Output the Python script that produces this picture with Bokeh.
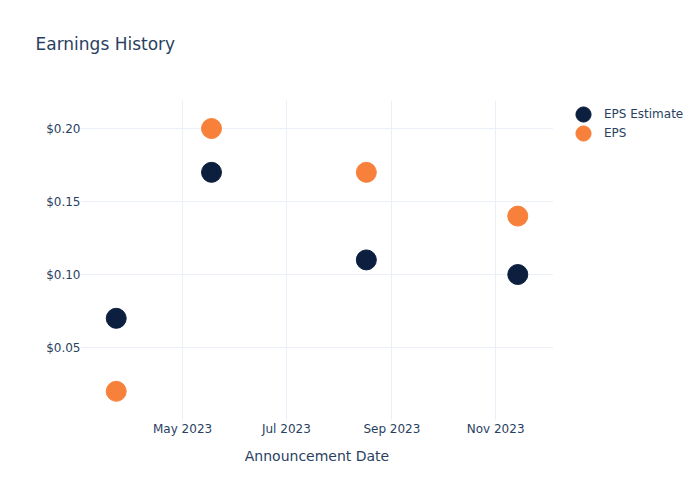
import pandas as pd
from bokeh.plotting import figure
from bokeh.layouts import row
from bokeh.models import (Range1d, MonthsTicker, DatetimeTickFormatter, FixedTicker,
                          NumeralTickFormatter, Legend, LegendItem, ColumnDataSource, Title)
from bokeh.embed import file_html
from bokeh.resources import INLINE

# ---- data ----
dates = ["2023-03-23", "2023-05-18", "2023-08-17", "2023-11-14"]
eps_estimate = [0.07, 0.17, 0.11, 0.10]
eps_actual = [0.02, 0.20, 0.17, 0.14]
y_ticks = [0.05, 0.10, 0.15, 0.20]
series_names = ["EPS Estimate", "EPS"]

FONT = "DejaVu Sans"
TXT = "#2a3f5f"
GRID = "#ebf0f8"
C_EST = "#0c1f3f"
C_EPS = "#f7813a"

x = pd.to_datetime(dates)
src = ColumnDataSource(dict(x=x, est=eps_estimate, eps=eps_actual))

p = figure(width=553, height=500, x_axis_type="datetime",
           output_backend="svg", toolbar_location=None,
           x_range=Range1d(pd.Timestamp("2023-03-02"), pd.Timestamp("2023-12-05")),
           y_range=Range1d(0.0, 0.2192),
           min_border_left=80, min_border_right=0,
           min_border_top=100, min_border_bottom=80)

p.title.visible = False
spacer = Title(text=" ", text_font_size="27px")
p.add_layout(spacer, "above")
title = Title(text="Earnings History", text_font=FONT, text_font_size="17px",
              text_font_style="normal", text_color=TXT, offset=-45)
p.add_layout(title, "above")

p.outline_line_color = None
p.background_fill_color = "white"
p.border_fill_color = "white"

p.scatter("x", "est", source=src, size=20, fill_color=C_EST, line_color=C_EST)
p.scatter("x", "eps", source=src, size=20, fill_color=C_EPS, line_color=C_EPS)

# axes
p.xaxis.ticker = MonthsTicker(months=[0, 2, 4, 6, 8, 10])
p.xaxis.formatter = DatetimeTickFormatter(months="%b %Y", days="%b %Y")
p.yaxis.ticker = FixedTicker(ticks=y_ticks)
p.yaxis.formatter = NumeralTickFormatter(format="$0.00")
for ax in (p.xaxis, p.yaxis):
    ax.axis_line_color = None
    ax.major_tick_line_color = None
    ax.minor_tick_line_color = None
    ax.major_tick_out = 0
    ax.major_tick_in = 0
    ax.minor_tick_out = 0
    ax.major_label_text_font = FONT
    ax.major_label_text_font_size = "12px"
    ax.major_label_text_color = TXT
p.xaxis.major_label_standoff = 1
p.yaxis.major_label_standoff = 0
p.xaxis.axis_label = "Announcement Date"
p.xaxis.axis_label_text_font = FONT
p.xaxis.axis_label_text_font_size = "14px"
p.xaxis.axis_label_text_font_style = "normal"
p.xaxis.axis_label_text_color = TXT
p.xaxis.axis_label_standoff = 9

p.xgrid.grid_line_color = GRID
p.ygrid.grid_line_color = GRID
p.xgrid.ticker = p.xaxis.ticker
p.ygrid.ticker = p.yaxis.ticker

# ---- legend panel (separate figure on the right, frame y 100..420) ----
# Its ranges hold none of the data, so the series renderers only feed the legend keys.
leg = figure(width=147, height=500, output_backend="svg", toolbar_location=None,
             x_range=Range1d(0, 1), y_range=Range1d(0, 1),
             min_border_left=0, min_border_right=0, min_border_top=100, min_border_bottom=80)
leg.axis.visible = False
leg.grid.visible = False
leg.outline_line_color = None
leg.title.visible = False
leg.background_fill_color = "white"
leg.border_fill_color = "white"

k1 = leg.scatter("x", "est", source=src, size=20, fill_color=C_EST, line_color=C_EST)
k2 = leg.scatter("x", "eps", source=src, size=20, fill_color=C_EPS, line_color=C_EPS)

def make_legend(name, rend, loc):
    lg = Legend(items=[LegendItem(label=name, renderers=[rend], index=0)], location=loc)
    lg.border_line_color = None
    lg.background_fill_alpha = 0
    lg.padding = 0
    lg.margin = 0
    lg.glyph_width = 38
    lg.glyph_height = 38
    lg.label_height = 38
    lg.label_standoff = 2
    lg.label_text_font = FONT
    lg.label_text_font_size = "12px"
    lg.label_text_color = TXT
    return lg

leg.add_layout(make_legend(series_names[0], k1, (11, 287)), "center")
leg.add_layout(make_legend(series_names[1], k2, (11, 268)), "center")

layout = row(p, leg)
open("out.html", "w").write(file_html(layout, INLINE))
